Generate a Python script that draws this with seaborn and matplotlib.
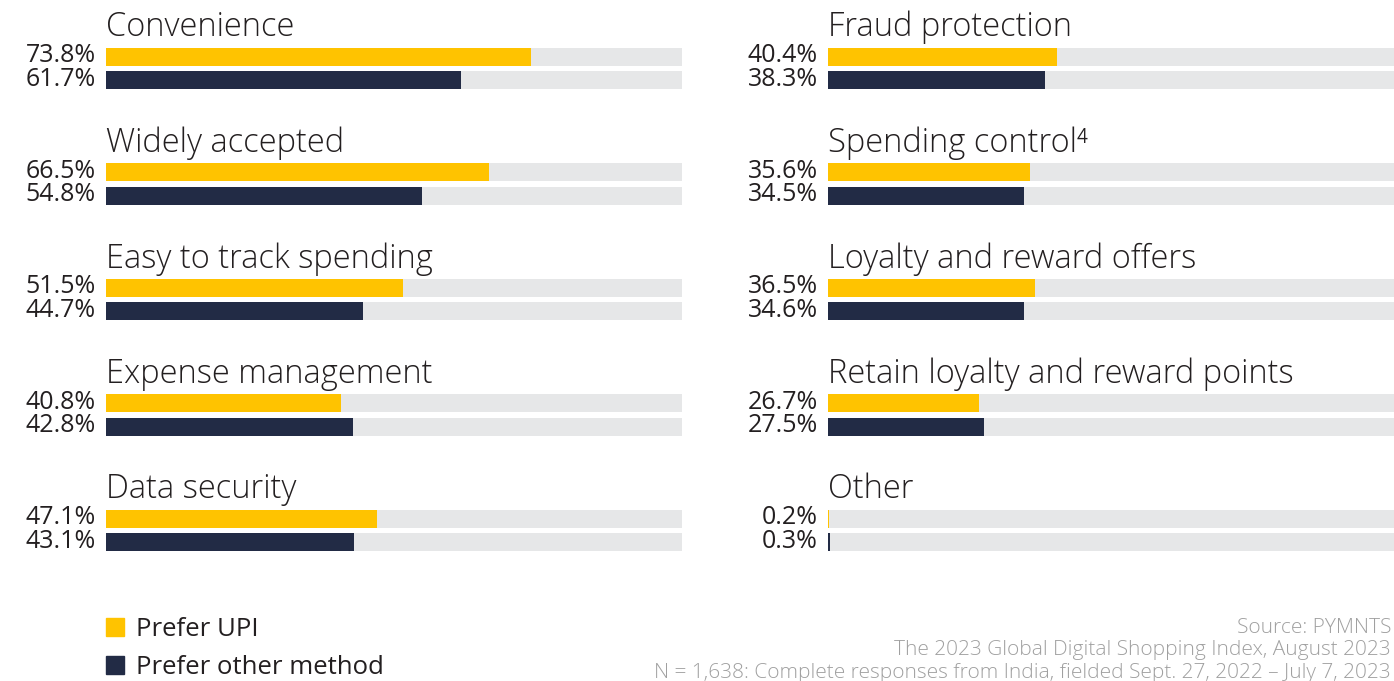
import pandas as pd
import seaborn as sns
import matplotlib.pyplot as plt
from matplotlib.patches import Patch

left_cats = ["Convenience", "Widely accepted", "Easy to track spending",
             "Expense management", "Data security"]
left_upi = [73.8, 66.5, 51.5, 40.8, 47.1]
left_other = [61.7, 54.8, 44.7, 42.8, 43.1]

right_cats = ["Fraud protection", "Spending control\u2074", "Loyalty and reward offers",
              "Retain loyalty and reward points", "Other"]
right_upi = [40.4, 35.6, 36.5, 26.7, 0.2]
right_other = [38.3, 34.5, 34.6, 27.5, 0.3]

series = ["Prefer UPI", "Prefer other method"]
source_lines = ["Source: PYMNTS",
                "The 2023 Global Digital Shopping Index, August 2023",
                "N = 1,638: Complete responses from India, fielded Sept. 27, 2022 \u2013 July 7, 2023"]

YELLOW = "#FFC300"
NAVY = "#222B45"
GREY = "#E6E7E8"
TEXT = "#231F20"

sns.set_style("white")
plt.rcParams['font.family'] = ['Open Sans', 'DejaVu Sans']

W, H = 1394, 681
fig = plt.figure(figsize=(W / 100, H / 100), dpi=100)

unit = 115.5
top_px = 68.5 - 0.5 * unit
bottom = 1 - (top_px + 5 * unit) / H
height = 5 * unit / H


def panel(x0_px, w_px, cats, upi, other):
    ax = fig.add_axes([x0_px / W, bottom, w_px / W, height])
    df = pd.DataFrame({
        "cat": cats * 2,
        "series": [series[0]] * len(cats) + [series[1]] * len(cats),
        "value": upi + other,
    })
    df["track"] = 100
    sns.barplot(data=df, y="cat", x="track", hue="series", order=cats,
                hue_order=series, palette=[GREY, GREY], width=0.4,
                legend=False, ax=ax, linewidth=0, saturation=1)
    sns.barplot(data=df, y="cat", x="value", hue="series", order=cats,
                hue_order=series, palette=[YELLOW, NAVY], width=0.4,
                legend=False, ax=ax, linewidth=0, saturation=1)
    h = 18 / unit
    for p in ax.patches:
        c = p.get_y() + p.get_height() / 2
        p.set_height(h)
        p.set_y(c - h / 2)
    for i, cat in enumerate(cats):
        ax.text(0, i - 32 / unit, cat, ha="left", va="baseline",
                fontsize=23.5, color=TEXT, fontweight="light", clip_on=False)
        for j, v in enumerate([upi[i], other[i]]):
            yc = i + (-0.1 if j == 0 else 0.1)
            ax.annotate(f"{v:.1f}%", xy=(0, yc), xytext=(-10, 1),
                        textcoords="offset pixels", ha="right", va="center",
                        fontsize=18, color=TEXT, annotation_clip=False)
    ax.set_xlim(0, 100)
    ax.set_ylim(4.5, -0.5)
    ax.set_xlabel("")
    ax.set_ylabel("")
    ax.set_xticks([])
    ax.set_yticks([])
    sns.despine(ax=ax, left=True, bottom=True)
    return ax


panel(106, 576, left_cats, left_upi, left_other)
panel(828, 567, right_cats, right_upi, right_other)

handles = [Patch(color=YELLOW, label=series[0]), Patch(color=NAVY, label=series[1])]
fig.legend(handles=handles, loc="upper left", bbox_to_anchor=(106 / W, 1 - 617 / H),
           frameon=False, fontsize=18.5, handlelength=0.7, handleheight=0.7,
           handletextpad=0.45, labelspacing=0.5, borderpad=0, borderaxespad=0,
           labelcolor=TEXT)

for k, line in enumerate(source_lines):
    fig.text(1391 / W, 1 - (633 + 22.5 * k) / H, line, ha="right", va="baseline",
             fontsize=15, color="#A0A0A0", fontweight="light")

fig.savefig("out.png", dpi=100, facecolor="white")
